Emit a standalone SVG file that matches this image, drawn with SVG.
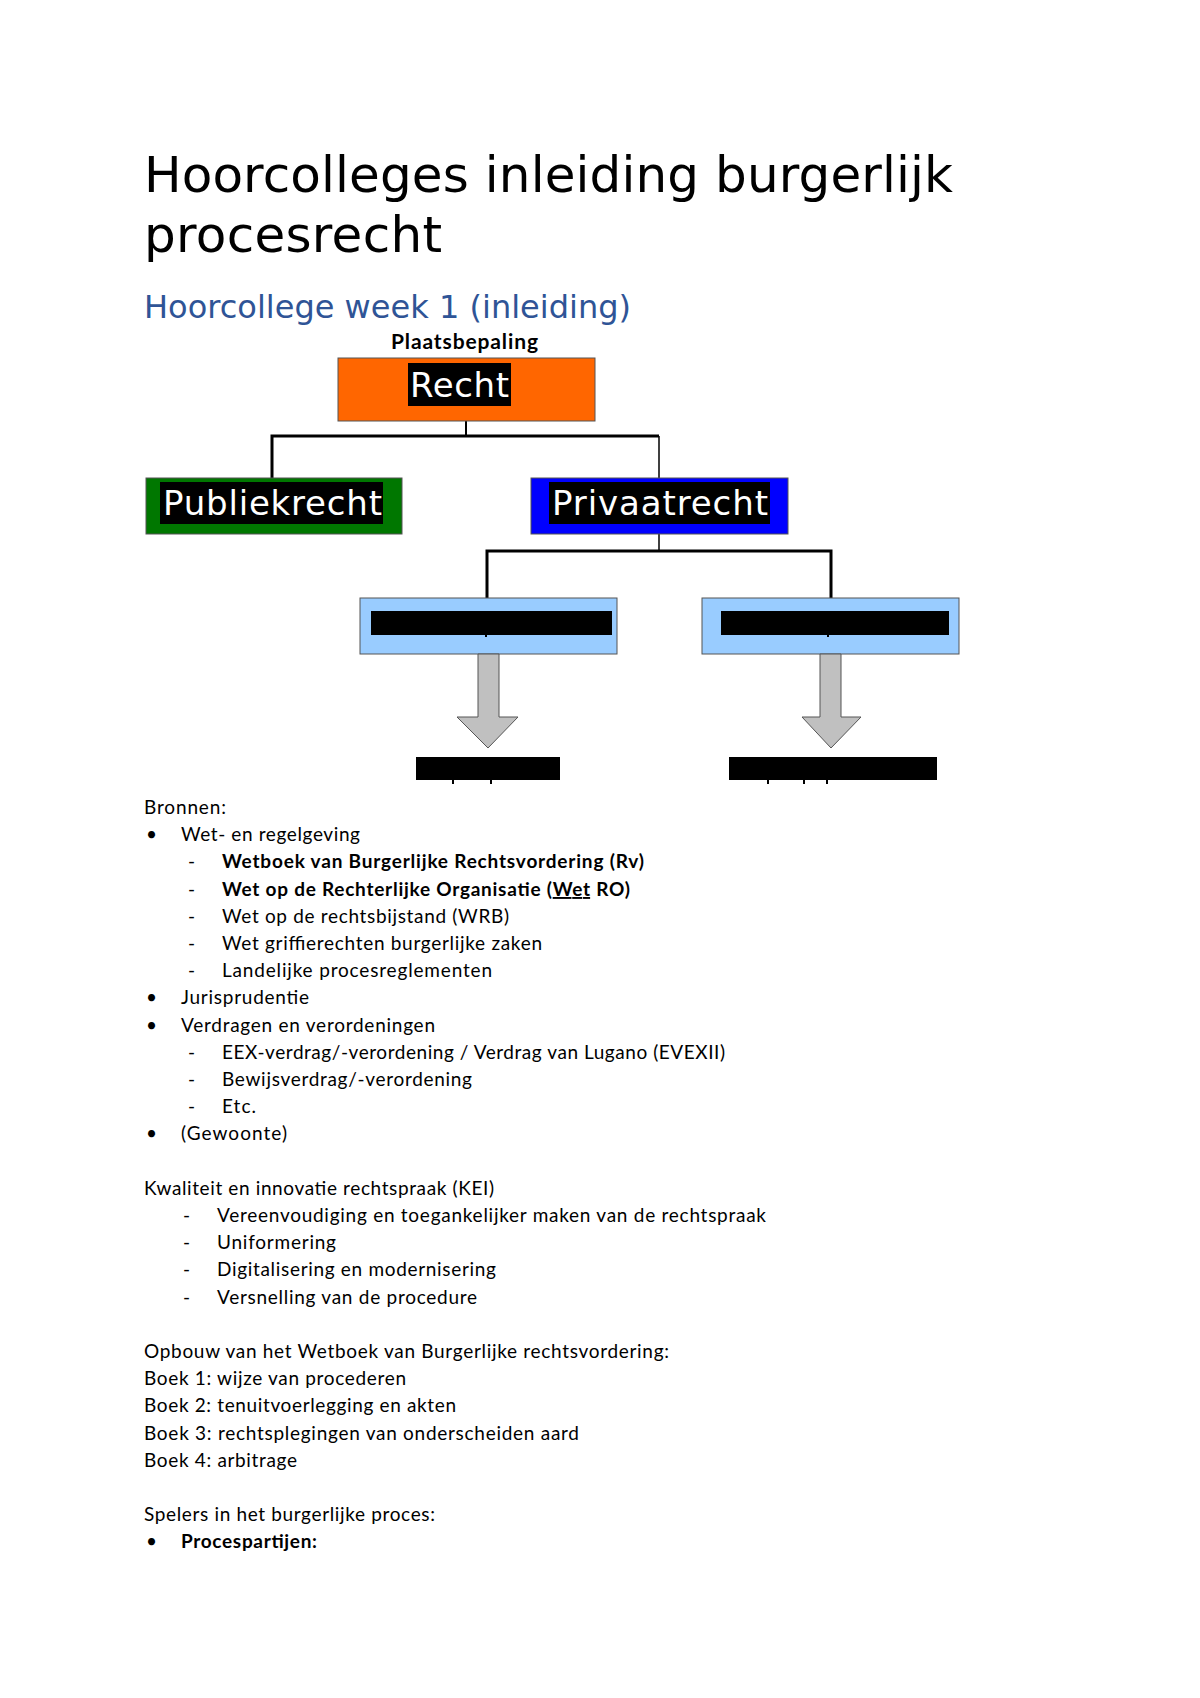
<svg xmlns="http://www.w3.org/2000/svg" width="1200" height="1698" viewBox="0 0 1200 1698">
<style>
.title{font-family:"DejaVu Sans",sans-serif;font-size:50px;fill:#000}
.sub{font-family:"DejaVu Sans",sans-serif;font-size:32px;fill:#2F5496}
.lbl{font-family:"DejaVu Sans",sans-serif;font-size:34px;fill:#fff}
.body{font-family:Lato,"Liberation Sans",sans-serif;font-size:19px;fill:#000}
.cap{font-family:Lato,"Liberation Sans",sans-serif;font-size:21px;font-weight:bold;fill:#000}
.b{font-weight:bold}
.box{stroke:#555;stroke-width:1}
.hl{fill:#000}
.conn{fill:none;stroke:#000}
.arrow{fill:#C0C0C0;stroke:#555;stroke-width:1}
</style>
<rect width="1200" height="1698" fill="#fff"/>
<text class="title" x="144" y="192" textLength="809">Hoorcolleges inleiding burgerlijk</text>
<text class="title" x="144" y="252" textLength="298">procesrecht</text>
<text class="sub" x="144" y="318" textLength="487">Hoorcollege week 1 (inleiding)</text>
<text class="cap" x="391" y="349" textLength="147">Plaatsbepaling</text>

<g id="connectors">
<path class="conn" stroke-width="2" d="M466 421 V436"/>
<path class="conn" stroke-width="3" d="M272 478 V436 H659"/>
<path class="conn" stroke-width="1.5" d="M659 436 V478"/>
<path class="conn" stroke-width="1.5" d="M659 534 V551"/>
<path class="conn" stroke-width="3" d="M487 598 V551 H831 V598"/>
</g>

<g id="recht">
<rect class="box" x="338" y="358" width="257" height="63" fill="#FF6600" stroke="#8a4a1a"/>
<rect class="hl" x="408" y="363" width="103" height="43"/>
<text class="lbl" x="410" y="397" textLength="99">Recht</text>
</g>
<g id="publiekrecht">
<rect class="box" x="146" y="478" width="256" height="56" fill="#007700"/>
<rect class="hl" x="160" y="482" width="223" height="42"/>
<text class="lbl" x="163" y="515" textLength="219">Publiekrecht</text>
</g>
<g id="privaatrecht">
<rect class="box" x="531" y="478" width="257" height="56" fill="#0000FF"/>
<rect class="hl" x="549" y="482" width="221" height="42"/>
<text class="lbl" x="552" y="515" textLength="216">Privaatrecht</text>
</g>
<g id="left-box">
<rect class="box" x="360" y="598" width="257" height="56" fill="#99CCFF"/>
<rect class="hl" x="371" y="611" width="241" height="24"/>
<rect class="hl" x="485" y="634" width="2" height="3"/>
</g>
<g id="right-box">
<rect class="box" x="702" y="598" width="257" height="56" fill="#99CCFF"/>
<rect class="hl" x="721" y="611" width="228" height="24"/>
<rect class="hl" x="827" y="634" width="2" height="3"/>
</g>
<g id="left-arrow">
<path class="arrow" d="M478 654 H499 V717 H518 L488 748 L457 717 H478 Z"/>
</g>
<g id="right-arrow">
<path class="arrow" d="M820 654 H841 V717 H861 L831 748 L802 717 H820 Z"/>
</g>
<g id="left-result">
<rect class="hl" x="416" y="757" width="144" height="23"/>
<rect class="hl" x="452" y="780" width="2" height="4"/>
<rect class="hl" x="490" y="780" width="2" height="4"/>
</g>
<g id="right-result">
<rect class="hl" x="729" y="757" width="208" height="23"/>
<rect class="hl" x="767" y="780" width="2" height="4"/>
<rect class="hl" x="803" y="780" width="2" height="4"/>
<rect class="hl" x="826" y="780" width="2" height="4"/>
</g>

<g id="text-body" class="body">
<text x="144" y="814" textLength="82">Bronnen:</text>
<text x="146" y="841">•</text><text x="181" y="841" textLength="179">Wet- en regelgeving</text>
<text x="188" y="868">-</text><text class="b" x="222" y="868" textLength="422">Wetboek van Burgerlijke Rechtsvordering (Rv)</text>
<text x="188" y="896">-</text><text class="b" x="222" y="896" textLength="408">Wet op de Rechterlijke Organisatie (<tspan text-decoration="underline">Wet</tspan> RO)</text>
<text x="188" y="923">-</text><text x="222" y="923" textLength="287">Wet op de rechtsbijstand (WRB)</text>
<text x="188" y="950">-</text><text x="222" y="950" textLength="320">Wet griffierechten burgerlijke zaken</text>
<text x="188" y="977">-</text><text x="222" y="977" textLength="270">Landelijke procesreglementen</text>
<text x="146" y="1004">•</text><text x="181" y="1004" textLength="128">Jurisprudentie</text>
<text x="146" y="1032">•</text><text x="181" y="1032" textLength="254">Verdragen en verordeningen</text>
<text x="188" y="1059">-</text><text x="222" y="1059" textLength="503">EEX-verdrag/-verordening / Verdrag van Lugano (EVEXII)</text>
<text x="188" y="1086">-</text><text x="222" y="1086" textLength="250">Bewijsverdrag/-verordening</text>
<text x="188" y="1113">-</text><text x="222" y="1113" textLength="34">Etc.</text>
<text x="146" y="1140">•</text><text x="181" y="1140" textLength="106">(Gewoonte)</text>
<text x="144" y="1195" textLength="350">Kwaliteit en innovatie rechtspraak (KEI)</text>
<text x="183" y="1222">-</text><text x="217" y="1222" textLength="549">Vereenvoudiging en toegankelijker maken van de rechtspraak</text>
<text x="183" y="1249">-</text><text x="217" y="1249" textLength="119">Uniformering</text>
<text x="183" y="1276">-</text><text x="217" y="1276" textLength="279">Digitalisering en modernisering</text>
<text x="183" y="1304">-</text><text x="217" y="1304" textLength="260">Versnelling van de procedure</text>
<text x="144" y="1358" textLength="525">Opbouw van het Wetboek van Burgerlijke rechtsvordering:</text>
<text x="144" y="1385" textLength="262">Boek 1: wijze van procederen</text>
<text x="144" y="1412" textLength="312">Boek 2: tenuitvoerlegging en akten</text>
<text x="144" y="1440" textLength="435">Boek 3: rechtsplegingen van onderscheiden aard</text>
<text x="144" y="1467" textLength="153">Boek 4: arbitrage</text>
<text x="144" y="1521" textLength="291">Spelers in het burgerlijke proces:</text>
<text x="146" y="1548">•</text><text class="b" x="181" y="1548" textLength="136">Procespartijen:</text>
</g>
</svg>
